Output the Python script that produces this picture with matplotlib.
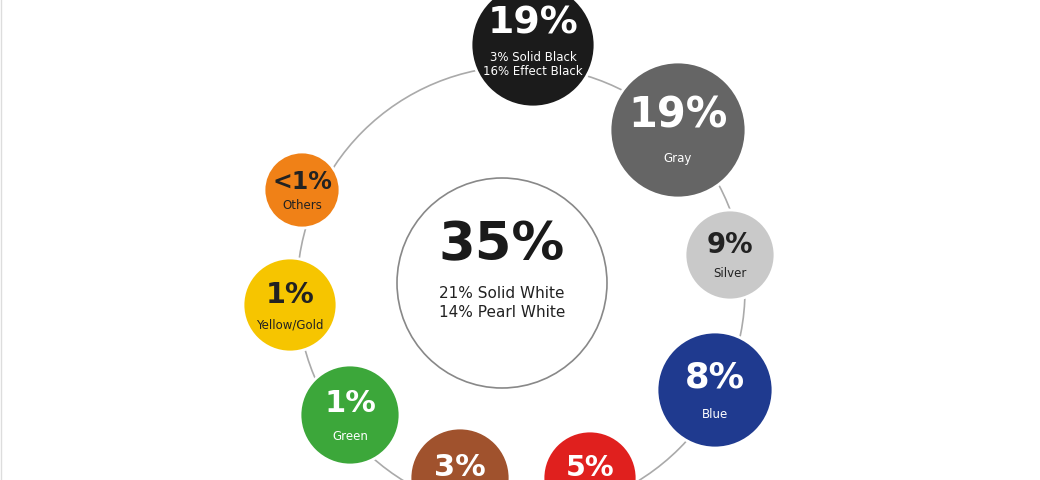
import matplotlib
matplotlib.use("Agg")
import matplotlib.pyplot as plt
from matplotlib.patches import Circle

pcts = ["19%", "19%", "9%", "8%", "5%", "3%", "1%", "1%", "<1%"]
names = ["3% Solid Black\n16% Effect Black", "Gray", "Silver", "Blue", "Red", "Brown", "Green", "Yellow/Gold", "Others"]
colors = ["#1b1b1b", "#656565", "#c9c9c9", "#1f3a8f", "#e0201e", "#a0522d", "#3ca73a", "#f6c500", "#f08117"]
txtcol = ["white", "white", "#222222", "white", "white", "white", "white", "#222222", "#222222"]
center_pct = "35%"
center_sub = "21% Solid White\n14% Pearl White"

# layout (pixels)
pos = [(533, 45), (678, 130), (730, 255), (715, 390), (590, 478), (460, 478), (350, 415), (290, 305), (302, 190)]
rad = [62, 68, 45, 58, 47, 50, 50, 47, 38]

fig = plt.figure(figsize=(10.4, 4.8), dpi=100)
ax = fig.add_axes([0, 0, 1, 1])
ax.set_xlim(0, 1040)
ax.set_ylim(480, 0)
ax.axis("off")

ax.add_patch(Circle((521, 290), 224, fill=False, ec="#aaaaaa", lw=1.2, zorder=1))
ax.add_patch(Circle((502, 283), 105, fc="white", ec="#888888", lw=1.2, zorder=2))
ax.text(502, 245, center_pct, ha="center", va="center", fontsize=38, fontweight="bold", color="#1a1a1a", zorder=3)
ax.text(502, 303, center_sub, ha="center", va="center", fontsize=11, color="#222222", linespacing=1.4, zorder=3)

for (x, y), r, p, n, c, tc in zip(pos, rad, pcts, names, colors, txtcol):
    ax.add_patch(Circle((x, y), r, fc=c, ec="white", lw=2, zorder=4))
    big = max(17, r * 0.44)
    two = "\n" in n
    py = y - r * (0.35 if two else 0.22)
    ax.text(x, py, p, ha="center", va="center", fontsize=big,
            fontweight="bold", color=tc, zorder=5, clip_on=True)
    ny = y + r * (0.32 if two else 0.42)
    if ny < 470:
        ax.text(x, ny, n, ha="center", va="center", fontsize=8.5,
                color=tc, linespacing=1.1, zorder=5)

ax.plot([1, 1], [0, 480], color="#dddddd", lw=1)
fig.savefig("out.png", dpi=100, facecolor="white")
